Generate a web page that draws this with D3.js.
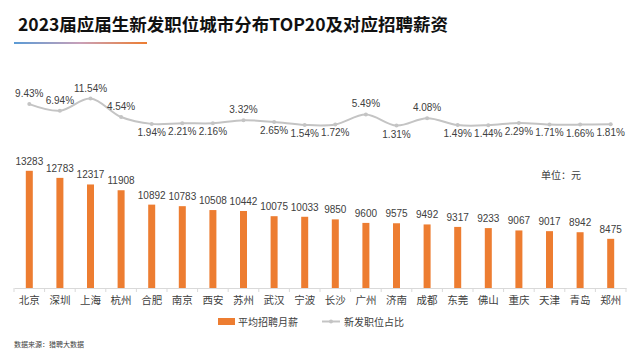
<!DOCTYPE html>
<html><head><meta charset="utf-8">
<script src="https://cdn.jsdelivr.net/npm/d3@7"></script>
<style>
html,body{margin:0;padding:0;background:#fff;}
svg{display:block;}
</style></head>
<body>
<svg id="chart" width="640" height="360"></svg>
<script>
const cities = ["北京","深圳","上海","杭州","合肥","南京","西安","苏州","武汉","宁波","长沙","广州","济南","成都","东莞","佛山","重庆","天津","青岛","郑州"];
const salary = [13283,12783,12317,11908,10892,10783,10508,10442,10075,10033,9850,9600,9575,9492,9317,9233,9067,9017,8942,8475];
const share = [9.43,6.94,11.54,4.54,1.94,2.21,2.16,3.32,2.65,1.54,1.72,5.49,1.31,4.08,1.49,1.44,2.29,1.71,1.66,1.81];
const titleText = "2023届应届生新发职位城市分布TOP20及对应招聘薪资";
const legendLabels = ["平均招聘月薪","新发职位占比"];
const unitText = "单位：元";
const sourceText = "数据来源：猎聘大数据";

const svg = d3.select("#chart");
const font = "'Liberation Sans', Arial, 'Noto Sans CJK SC', sans-serif";
const cjk = "'Noto Sans CJK SC', 'Liberation Sans', sans-serif";
const orange = "#ED7D31", grey = "#c4c4c4", txt = "#404040";

// title
svg.append("text").attr("x",18).attr("y",31).attr("font-family",cjk)
  .attr("font-size",17.5).attr("font-weight","bold").attr("fill","#111").text(titleText);
const grad = svg.append("defs").append("linearGradient").attr("id","ug");
grad.append("stop").attr("offset","0%").attr("stop-color","#5b9bd5");
grad.append("stop").attr("offset","50%").attr("stop-color","#c9a0b8");
grad.append("stop").attr("offset","100%").attr("stop-color","#ed7d31");
svg.append("rect").attr("x",14).attr("y",42).attr("width",133).attr("height",2).attr("fill","url(#ug)");

const x = d3.scaleBand().domain(cities).range([14,626]);
const yBar = d3.scaleLinear().domain([5000,15000]).range([288,146.5]);
const yLine = d3.scaleLinear().domain([0,12]).range([129,97.3]);

// axis
const axis = svg.append("g").attr("transform","translate(0,288)")
  .call(d3.axisBottom(x).tickSize(0).tickPadding(9));
axis.select(".domain").attr("stroke","#d9d9d9");
axis.selectAll(".tick text").attr("font-family",cjk).attr("font-size",10.5).attr("fill",txt);
// band boundary ticks
svg.append("g").selectAll("line").data(d3.range(cities.length+1)).join("line")
  .attr("x1",i=>14+i*x.step()).attr("x2",i=>14+i*x.step())
  .attr("y1",288).attr("y2",292).attr("stroke","#d9d9d9");

// bars
const bw = 7;
svg.append("g").selectAll("rect").data(salary).join("rect")
  .attr("x",(d,i)=>x(cities[i])+x.bandwidth()/2-bw/2)
  .attr("y",d=>yBar(d)).attr("width",bw).attr("height",d=>288-yBar(d)).attr("fill",orange);
svg.append("g").selectAll("text").data(salary).join("text")
  .attr("x",(d,i)=>x(cities[i])+x.bandwidth()/2).attr("y",d=>yBar(d)-6)
  .attr("text-anchor","middle").attr("font-family",font).attr("font-size",10).attr("fill",txt)
  .text(d=>d);

// line
const cx = i=>x(cities[i])+x.bandwidth()/2;
const line = d3.line().x((d,i)=>cx(i)).y(d=>yLine(d)).curve(d3.curveCatmullRom.alpha(0.5));
svg.append("path").datum(share).attr("d",line).attr("fill","none").attr("stroke",grey).attr("stroke-width",2);
svg.append("g").selectAll("circle").data(share).join("circle")
  .attr("cx",(d,i)=>cx(i)).attr("cy",d=>yLine(d)).attr("r",2).attr("fill",grey);
svg.append("g").selectAll("text").data(share).join("text")
  .attr("x",(d,i)=>cx(i)).attr("y",d=>d>3 ? yLine(d)-7 : yLine(d)+12)
  .attr("text-anchor","middle").attr("font-family",font).attr("font-size",10).attr("fill",txt)
  .text(d=>d.toFixed(2)+"%");

// unit
svg.append("text").attr("x",541).attr("y",179).attr("font-family",cjk).attr("font-size",10).attr("fill",txt).text(unitText);

// legend
svg.append("rect").attr("x",218).attr("y",318).attr("width",17).attr("height",7).attr("fill",orange);
svg.append("text").attr("x",238).attr("y",325.5).attr("font-family",cjk).attr("font-size",10).attr("fill",txt).text(legendLabels[0]);
svg.append("line").attr("x1",322).attr("x2",340).attr("y1",321.5).attr("y2",321.5).attr("stroke",grey).attr("stroke-width",2);
svg.append("circle").attr("cx",331).attr("cy",321.5).attr("r",2).attr("fill",grey);
svg.append("text").attr("x",344).attr("y",325.5).attr("font-family",cjk).attr("font-size",10).attr("fill",txt).text(legendLabels[1]);

// source
svg.append("text").attr("x",14).attr("y",347).attr("font-family",cjk).attr("font-size",7).attr("fill","#404040").text(sourceText);
</script>
</body></html>
